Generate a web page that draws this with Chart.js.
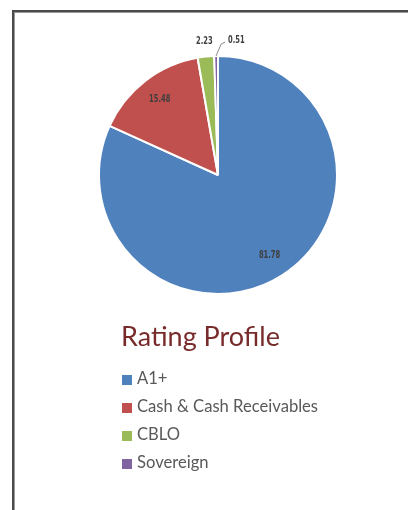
<!DOCTYPE html>
<html>
<head>
<meta charset="utf-8">
<script src="https://cdn.jsdelivr.net/npm/chart.js@4"></script>
<style>
    body { margin: 0; background: #fff; width: 408px; height: 510px; overflow: hidden; position: relative; }
    .frame {
        position: absolute; left: 12px; top: 10px; width: 400px; height: 510px;
        border-top: 2px solid #4a4a4a; border-left: 2px solid #4a4a4a;
        box-shadow: inset 1px 1px 0 #9a9a9a;
    }
    #chartWrap { position: absolute; left: 38px; top: 15px; width: 360px; height: 320px; }
    .title {
        position: absolute; left: 121px; top: 319px;
        font-family: Lato, "Open Sans", sans-serif; font-size: 27px; color: #772b2b;
        white-space: nowrap;
    }
    .legend { position: absolute; left: 122px; top: 364px; margin: 0; padding: 0; list-style: none; }
    .legend li {
        height: 28px; line-height: 28px; white-space: nowrap;
        font-family: Lato, "Open Sans", sans-serif; font-size: 16.6px; color: #595959;
    }
    .legend span.box { display: inline-block; width: 10px; height: 10px; margin-right: 5px; vertical-align: -1px; }
</style>
</head>
<body>
<div class="frame"></div>
<div id="chartWrap"><canvas id="ratingChart"></canvas></div>
<div class="title" id="chartTitle"></div>
<ul class="legend" id="legend"></ul>
<script>
const chartTitle = 'Rating Profile';
const categories = ['A1+', 'Cash & Cash Receivables', 'CBLO', 'Sovereign'];
const values = [81.78, 15.48, 2.23, 0.51];
const colors = ['#4f81bd', '#c0504d', '#9bbb59', '#8064a2'];

// condensed label text: squeeze horizontally
function drawNarrow(ctx, text, x, y, align) {
    ctx.save();
    ctx.translate(x, y);
    ctx.scale(0.75, 1);
    ctx.textAlign = align;
    ctx.fillText(text, 0, 0);
    ctx.restore();
}

// Draw value labels: inside for big slices, outside for small ones
const sliceLabels = {
    id: 'sliceLabels',
    afterDatasetsDraw(chart) {
        const ctx = chart.ctx;
        const meta = chart.getDatasetMeta(0);
        ctx.save();
        ctx.font = 'bold 10px "DejaVu Sans Condensed", "Liberation Sans Narrow", sans-serif';
        ctx.fillStyle = '#3f3f3f';
        ctx.textBaseline = 'middle';
        meta.data.forEach((arc, i) => {
            const mid = (arc.startAngle + arc.endAngle) / 2;
            const r = arc.outerRadius;
            const text = values[i].toFixed(2);
            if (values[i] > 10) {
                drawNarrow(ctx, text, arc.x + Math.cos(mid) * r * 0.8, arc.y + Math.sin(mid) * r * 0.8, 'center');
            } else if (values[i] > 1) {
                drawNarrow(ctx, text, arc.x + Math.cos(mid) * (r + 15), arc.y + Math.sin(mid) * (r + 15), 'center');
            } else {
                // leader line for tiny slice
                const x0 = arc.x + Math.cos(mid) * r;
                const y0 = arc.y + Math.sin(mid) * r;
                ctx.strokeStyle = '#8c8c8c';
                ctx.lineWidth = 1;
                ctx.beginPath();
                ctx.moveTo(x0, y0);
                ctx.lineTo(x0 + 5, y0 - 12);
                ctx.lineTo(x0 + 9, y0 - 14);
                ctx.stroke();
                drawNarrow(ctx, text, x0 + 12, y0 - 16, 'left');
            }
        });
        ctx.restore();
    }
};

const ctx = document.getElementById('ratingChart').getContext('2d');
const ratingChart = new Chart(ctx, {
    type: 'pie',
    data: {
        labels: categories,
        datasets: [{
            data: values,
            backgroundColor: colors,
            borderColor: '#ffffff',
            borderWidth: 2
        }]
    },
    options: {
        responsive: true,
        maintainAspectRatio: false,
        animation: false,
        layout: { padding: { left: 60, right: 60, top: 40, bottom: 40 } },
        plugins: {
            legend: { display: false },
            tooltip: { enabled: false }
        }
    },
    plugins: [sliceLabels]
});

// Title and legend as HTML built from the data
document.getElementById('chartTitle').textContent = chartTitle;
const legendEl = document.getElementById('legend');
categories.forEach((name, i) => {
    const li = document.createElement('li');
    const box = document.createElement('span');
    box.className = 'box';
    box.style.background = colors[i];
    li.appendChild(box);
    li.appendChild(document.createTextNode(name));
    legendEl.appendChild(li);
});
</script>
</body>
</html>
